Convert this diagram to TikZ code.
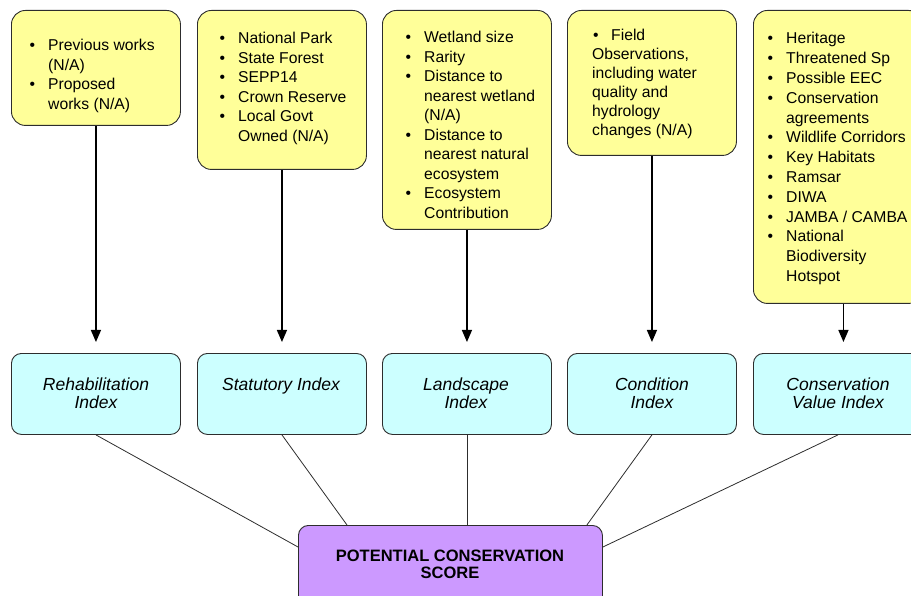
\documentclass[tikz,border=0pt]{standalone}
\usepackage{fontspec}
\setmainfont{Liberation Sans}
\usetikzlibrary{arrows.meta}
\definecolor{yfill}{RGB}{255,255,153}
\definecolor{cfill}{RGB}{204,255,255}
\definecolor{pfill}{RGB}{204,153,255}
\definecolor{edge}{RGB}{45,45,45}
\newcommand\bitem{\llap{\textbullet\hspace{13pt}}}
\tikzset{
  ybox/.style={draw=edge, fill=yfill, rounded corners=14pt, anchor=north west, inner sep=0pt, line width=0.9pt, minimum width=169pt},
  cbox/.style={draw=edge, fill=cfill, rounded corners=10pt, anchor=north west, inner sep=0pt, line width=0.9pt, minimum width=169pt, minimum height=81pt},
  pbox/.style={draw=edge, fill=pfill, rounded corners=10pt, anchor=north west, inner sep=0pt, line width=0.9pt, minimum width=304pt, minimum height=90pt},
  ytext/.style={anchor=base west, inner sep=0pt, font=\fontsize{15.7}{19.5}\selectfont},
  ctext/.style={anchor=base, inner sep=0pt, font=\fontsize{17.5}{18.5}\selectfont\itshape},
  ptext/.style={anchor=base, inner sep=0pt, font=\fontsize{16.5}{17.5}\selectfont\bfseries},
  arr/.style={draw=black, line width=1.3pt, -{Triangle[width=10pt,length=12pt]}, shorten >=11pt},
  link/.style={draw=edge, line width=0.8pt}
}
\begin{document}
\begin{tikzpicture}[x=1pt,y=-1pt]
\useasboundingbox (0,0) rectangle (911,596);
\clip (0,0) rectangle (911,596);
% yellow boxes
\node[ybox, minimum height=115pt] (y1) at (11,10) {};
\node[ybox, minimum height=159pt] (y2) at (197,10) {};
\node[ybox, minimum height=219pt] (y3) at (382,10) {};
\node[ybox, minimum height=145pt] (y4) at (567,10) {};
\node[ybox, minimum height=293pt] (y5) at (753,10) {};
% yellow texts
\node[ytext] (t1) at (48,51) {\begin{tabular}[t]{@{}l@{}}\bitem Previous works\\ (N/A)\\ \bitem Proposed\\ works (N/A)\end{tabular}};
\node[ytext] (t2) at (238,44) {\begin{tabular}[t]{@{}l@{}}\bitem National Park\\ \bitem State Forest\\ \bitem SEPP14\\ \bitem Crown Reserve\\ \bitem Local Govt\\ Owned (N/A)\end{tabular}};
\node[ytext] (t3) at (424,43) {\begin{tabular}[t]{@{}l@{}}\bitem Wetland size\\ \bitem Rarity\\ \bitem Distance to\\ nearest wetland\\ (N/A)\\ \bitem Distance to\\ nearest natural\\ ecosystem\\ \bitem Ecosystem\\ Contribution\end{tabular}};
\node[ytext, font=\fontsize{15.7}{19}\selectfont] (t4) at (592,41) {\begin{tabular}[t]{@{}l@{}}\hspace{1pt}\textbullet\hspace{12.5pt}Field\\ Observations,\\ including water\\ quality and\\ hydrology\\ changes (N/A)\end{tabular}};
\node[ytext, font=\fontsize{15.7}{19.8}\selectfont] (t5) at (786,44) {\begin{tabular}[t]{@{}l@{}}\bitem Heritage\\ \bitem Threatened Sp\\ \bitem Possible EEC\\ \bitem Conservation\\ agreements\\ \bitem Wildlife Corridors\\ \bitem Key Habitats\\ \bitem Ramsar\\ \bitem DIWA\\ \bitem JAMBA / CAMBA\\ \bitem National\\ Biodiversity\\ Hotspot\end{tabular}};
% cyan boxes
\node[cbox] (c1) at (11,353) {};
\node[cbox] (c2) at (197,353) {};
\node[cbox] (c3) at (382,353) {};
\node[cbox] (c4) at (567,353) {};
\node[cbox] (c5) at (753,353) {};
\node[ctext] (l1) at (96,390) {\begin{tabular}[t]{@{}c@{}}Rehabilitation\\ Index\end{tabular}};
\node[ctext] (l2) at (281,390) {Statutory Index};
\node[ctext] (l3) at (466,390) {\begin{tabular}[t]{@{}c@{}}Landscape\\ Index\end{tabular}};
\node[ctext] (l4) at (652,390) {\begin{tabular}[t]{@{}c@{}}Condition\\ Index\end{tabular}};
\node[ctext] (l5) at (838,390) {\begin{tabular}[t]{@{}c@{}}Conservation\\ Value Index\end{tabular}};
% purple box
\node[pbox] (p) at (298,525) {};
\node[ptext] (pt) at (450,561) {\begin{tabular}[t]{@{}c@{}}POTENTIAL CONSERVATION\\ SCORE\end{tabular}};
% arrows
\draw[arr] (y1.south) -- (c1.north);
\draw[arr] (y2.south) -- (c2.north);
\draw[arr] (y3.south) -- (c3.north);
\draw[arr] (y4.south) -- (c4.north);
\draw[arr] ([xshift=5.5pt]y5.south) -- ([xshift=5.5pt]c5.north);
% links
\draw[link] (c1.south) -- ([yshift=-22pt]p.north west);
\draw[link] (c2.south) -- ([xshift=49pt]p.north west);
\draw[link] (c3.south) -- (c3.south |- p.north);
\draw[link] (c4.south) -- ([xshift=-16pt]p.north east);
\draw[link] (c5.south) -- ([yshift=-22pt]p.north east);
\end{tikzpicture}
\end{document}
